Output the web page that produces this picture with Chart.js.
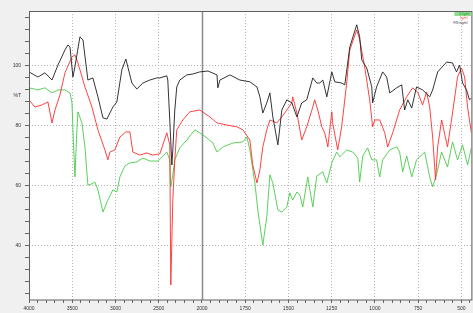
<!DOCTYPE html>
<html>
<head>
<meta charset="utf-8">
<style>
    html, body { margin: 0; padding: 0; background: #f0f0f0; }
</style>
</head>
<body>
<canvas id="irChart" width="473" height="313"></canvas>
<script src="https://cdn.jsdelivr.net/npm/chart.js"></script>
<script>
    // wavenumber (cm-1) / %T
    const blackWn = [4000, 3896, 3815, 3734, 3665, 3584, 3550, 3526, 3492, 3469, 3411, 3376, 3319, 3261, 3203, 3145, 3099, 3030, 2984, 2926,
        2880, 2810, 2753, 2683, 2602, 2522, 2487, 2406, 2395, 2372, 2348, 2337, 2314, 2291, 2256, 2175, 2106, 2025, 1965, 1913,
        1908, 1896, 1838, 1781, 1723, 1682, 1665, 1648, 1625, 1607, 1590, 1561, 1538, 1509, 1480, 1451, 1423, 1394, 1359, 1336,
        1319, 1301, 1278, 1249, 1232, 1192, 1174, 1145, 1105, 1088, 1076, 1047, 1018, 1013, 990, 955, 932, 914, 874, 845,
        828, 810, 787, 759, 724, 683, 666, 637, 585, 551, 528, 510, 493, 470, 453, 442];
    const blackT = [98, 96.3, 97.7, 95.3, 100.3, 105.3, 107, 106.3, 96.3, 99.7, 109.7, 108.7, 95.3, 96, 89.7, 82.7, 82.3, 86.3, 88, 98.7,
        102.3, 94.3, 92.3, 94.3, 95.3, 96, 96, 96.7, 95.3, 82, 67, 72, 85.3, 93, 95.3, 97, 97.3, 98, 98.3, 97,
        92.7, 95.3, 97, 95.3, 94.7, 93, 89.7, 84.3, 87.7, 91, 83, 73.7, 85.3, 88.7, 87.7, 83, 87.7, 88.7, 96, 94.3,
        94.3, 95.3, 89.7, 98, 94.7, 94.3, 93.7, 106.3, 113.7, 109.7, 102, 99.3, 93, 87.7, 93, 98, 96.3, 91, 92.7, 93.7,
        85.3, 88.7, 86, 93, 92, 89.7, 92, 98, 101.3, 101, 98, 100.3, 94.3, 92, 88.7, 89.3];

    const redWn = [4000, 3931, 3850, 3781, 3734, 3700, 3642, 3584, 3503, 3469, 3434, 3353, 3272, 3203, 3122, 3088, 3064, 3007, 2949, 2880,
        2833, 2799, 2718, 2637, 2568, 2487, 2406, 2372, 2360, 2337, 2314, 2291, 2221, 2140, 2025, 1954, 1913, 1856, 1798, 1763,
        1723, 1706, 1682, 1665, 1648, 1625, 1607, 1567, 1538, 1509, 1480, 1475, 1451, 1423, 1394, 1359, 1348, 1330, 1307, 1290,
        1272, 1249, 1244, 1215, 1192, 1163, 1145, 1105, 1088, 1059, 1030, 1013, 1001, 972, 943, 926, 897, 857, 816, 782,
        753, 724, 701, 683, 666, 649, 637, 614, 580, 551, 522, 499, 481, 464, 442];
    const redT = [88.7, 86.3, 87, 88, 81, 85.3, 90.3, 97.7, 103, 103.7, 101, 93, 86.3, 78.7, 72, 68.7, 71.3, 72, 76.3, 78,
        78, 71.3, 70.3, 71, 70.3, 70.7, 77.7, 73.7, 27, 55.3, 68.7, 78.7, 82, 84.7, 85.3, 83, 81, 80.3, 79.7, 78.7,
        75.3, 67, 61, 65.3, 73, 78.7, 82, 81, 83, 85.3, 87.7, 89.7, 84.3, 75.3, 79.7, 86.3, 88.7, 85.3, 79.7, 77.7,
        73, 84.7, 81, 72, 79.7, 94.3, 105.3, 112, 108.7, 99.7, 88.7, 79.7, 82, 82, 77.7, 73, 77.7, 85.3, 89.7, 92.7,
        91.3, 87, 91.3, 86.3, 76.3, 62, 73, 82, 73, 84.3, 96.3, 99.3, 96.3, 86.3, 77.7];

    const greenWn = [4000, 3896, 3815, 3734, 3665, 3584, 3526, 3503, 3492, 3469, 3446, 3434, 3388, 3353, 3319, 3272, 3238, 3203, 3145, 3088,
        3030, 2984, 2949, 2891, 2833, 2753, 2683, 2602, 2510, 2406, 2372, 2360, 2337, 2314, 2256, 2175, 2083, 2025, 1971, 1936,
        1913, 1879, 1821, 1763, 1740, 1723, 1694, 1677, 1648, 1625, 1607, 1590, 1561, 1538, 1509, 1492, 1475, 1451, 1434, 1417,
        1388, 1359, 1336, 1301, 1278, 1249, 1221, 1203, 1163, 1128, 1099, 1088, 1070, 1042, 1018, 990, 972, 955, 914, 874,
        857, 839, 816, 787, 759, 712, 683, 666, 643, 614, 580, 551, 522, 493, 464, 442];
    const greenT = [92.7, 92, 92.7, 91, 92, 92, 91, 87.7, 78.7, 63, 78.7, 84.7, 81, 73, 60.3, 60.7, 61.3, 58.7, 51.3, 55.3,
        58.7, 58, 63, 66.7, 67.7, 68, 69.3, 68.3, 68.3, 71.3, 68.7, 59.7, 63.7, 68.7, 72.7, 75.3, 78.7, 77.7, 76, 74.3,
        71.3, 73, 74.3, 74.7, 76.3, 72, 61, 52, 40.3, 49.7, 63.7, 61, 52, 51.3, 53, 57.7, 55.3, 58, 57, 53,
        63, 53, 63.3, 64.7, 61, 67.7, 71.3, 69.7, 72, 71.3, 69.3, 61.3, 70, 72.7, 68.7, 68.7, 63, 68.7, 72, 73,
        71.3, 64.7, 70, 63, 68.7, 71.3, 63, 59.7, 64, 71.3, 66.3, 74.7, 68.7, 73.7, 67, 72.7];

    const xLabelWn = [4000, 3500, 3000, 2500, 2000, 1750, 1500, 1250, 1000, 750, 500];
    const yLabelVals = [40, 60, 80, 100];
    const yTitleVal = 90;
    const seriesNames = ['0.5g/ml', '1g/ml', 'P/B mg/ml'];

    // the axis is compressed 2:1 above 2000 cm-1, like most IR plots
    function toU(w) { return w >= 2000 ? 4000 - w : 2000 + 2 * (2000 - w); }
    function fromU(u) { return u <= 2000 ? 4000 - u : 2000 - (u - 2000) / 2; }

    function pairs(wn, t) { return wn.map((w, i) => ({ x: toU(w), y: t[i] })); }

    const isXLabel = u => xLabelWn.some(w => Math.abs(toU(w) - u) < 0.01);

    const framePlugin = {
        id: 'frame',
        beforeDraw(c) {
            const { ctx, chartArea: a } = c;
            ctx.save();
            ctx.fillStyle = '#f0f0f0';
            ctx.fillRect(0, 0, c.width, c.height);
            ctx.fillStyle = '#ffffff';
            ctx.fillRect(a.left, a.top, a.right - a.left, a.bottom - a.top);
            ctx.restore();
        },
        beforeDatasetsDraw(c) {
            const { ctx, chartArea: a } = c;
            const x = Math.round(c.scales.x.getPixelForValue(toU(2000))) + 0.5;
            ctx.save();
            ctx.strokeStyle = '#8c8c8c';
            ctx.lineWidth = 1.5;
            ctx.beginPath();
            ctx.moveTo(x, a.top);
            ctx.lineTo(x, a.bottom);
            ctx.stroke();
            ctx.restore();
        },
        afterDraw(c) {
            const { ctx, chartArea: a } = c;
            ctx.save();
            ctx.strokeStyle = '#606060';
            ctx.lineWidth = 1;
            ctx.strokeRect(a.left + 0.5, a.top + 0.5, a.right - a.left, a.bottom - a.top - 0.5);
            // tiny legend in the corner
            ctx.fillStyle = '#8ede8e';
            ctx.fillRect(a.right - 17, a.top + 1, 17, 4);
            ctx.font = '3px "Liberation Sans"';
            ctx.textAlign = 'right';
            ctx.textBaseline = 'middle';
            ctx.fillStyle = '#2a8a2a';
            ctx.fillText(seriesNames[0], a.right - 2, a.top + 3);
            ctx.fillStyle = '#ff3030';
            ctx.fillText(seriesNames[1], a.right - 4, a.top + 7.5);
            ctx.fillStyle = '#333333';
            ctx.fillText(seriesNames[2], a.right - 4, a.top + 12);
            ctx.restore();
        }
    };

    new Chart(document.getElementById('irChart'), {
        type: 'line',
        data: {
            datasets: [
                { label: seriesNames[2], data: pairs(blackWn, blackT), borderColor: '#1e1e1e' },
                { label: seriesNames[1], data: pairs(redWn, redT), borderColor: '#ff2e2e' },
                { label: seriesNames[0], data: pairs(greenWn, greenT), borderColor: '#48cc48' }
            ]
        },
        options: {
            responsive: false,
            animation: false,
            events: [],
            layout: { padding: { top: 11, right: 1, left: 0, bottom: 0 } },
            elements: {
                line: { borderWidth: 0.9, tension: 0 },
                point: { radius: 0 }
            },
            plugins: { legend: { display: false }, tooltip: { enabled: false } },
            scales: {
                x: {
                    type: 'linear',
                    min: 0,
                    max: toU(442),
                    afterBuildTicks: scale => {
                        const t = [];
                        for (let w = 4000; w > 2000; w -= 100) t.push({ value: toU(w) });
                        for (let w = 2000; w >= 450; w -= 50) t.push({ value: toU(w) });
                        scale.ticks = t;
                    },
                    afterFit: scale => { scale.height = 13; },
                    ticks: {
                        autoSkip: false,
                        maxRotation: 0,
                        padding: 3,
                        color: '#333',
                        font: { family: 'Liberation Sans', size: 5 },
                        callback: v => isXLabel(v) ? String(Math.round(fromU(v))) : ''
                    },
                    grid: {
                        color: ctx => (ctx.tick && isXLabel(ctx.tick.value) && Math.abs(ctx.tick.value - toU(2000)) > 0.01) ? '#b4b4b4' : 'rgba(0,0,0,0)',
                        tickColor: '#666',
                        tickLength: 3,
                        lineWidth: 1
                    },
                    border: { display: false, dash: [1, 2] }
                },
                y: {
                    type: 'linear',
                    min: 22,
                    max: 118.3,
                    afterBuildTicks: scale => {
                        const t = [];
                        for (let v = 24; v <= 116; v += 4) t.push(v);
                        t.push(yTitleVal);
                        t.sort((a, b) => a - b);
                        scale.ticks = t.map(v => ({ value: v }));
                    },
                    afterFit: scale => { scale.width = 29; },
                    ticks: {
                        autoSkip: false,
                        padding: 4,
                        color: '#333',
                        font: { family: 'Liberation Sans', size: 5 },
                        callback: v => yLabelVals.includes(v) ? String(v) : (v === yTitleVal ? '%T' : '')
                    },
                    grid: {
                        color: ctx => (ctx.tick && yLabelVals.includes(ctx.tick.value)) ? '#b4b4b4' : 'rgba(0,0,0,0)',
                        tickColor: ctx => (ctx.tick && ctx.tick.value === yTitleVal) ? 'rgba(0,0,0,0)' : '#666',
                        tickLength: 4,
                        lineWidth: 1
                    },
                    border: { display: false, dash: [1, 2] }
                }
            }
        },
        plugins: [framePlugin]
    });
</script>
</body>
</html>
